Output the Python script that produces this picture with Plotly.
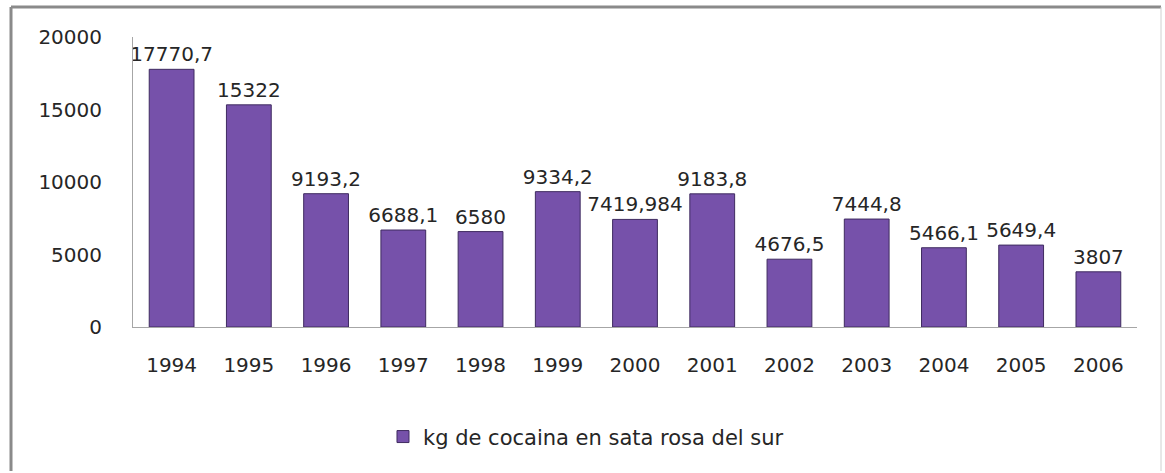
import plotly.graph_objects as go

years = ["1994", "1995", "1996", "1997", "1998", "1999", "2000",
         "2001", "2002", "2003", "2004", "2005", "2006"]
kg_cocaina = [17770.7, 15322, 9193.2, 6688.1, 6580, 9334.2, 7419.984,
              9183.8, 4676.5, 7444.8, 5466.1, 5649.4, 3807]
series_name = "kg de cocaina en sata rosa del sur"
y_ticks = [0, 5000, 10000, 15000, 20000]
y_tick_text = ["0", "5000", "10000", "15000", "20000"]


def fmt(v):
    if v == int(v):
        return str(int(v))
    return repr(v).replace(".", ",")


labels = [fmt(v) for v in kg_cocaina]

FONT = "DejaVu Sans"
TXT = "#262626"

fig = go.Figure()
fig.add_trace(go.Bar(
    x=years, y=kg_cocaina, name=series_name,
    text=labels, textposition="outside", cliponaxis=False,
    constraintext="none",
    textfont=dict(family=FONT, size=20, color=TXT),
    marker=dict(color="#7651AA", line=dict(color="#3f2b60", width=1)),
    width=0.58, showlegend=True,
))

fig.update_layout(
    width=1165, height=473,
    margin=dict(l=133, r=28, t=37, b=146, autoexpand=False),
    paper_bgcolor="white", plot_bgcolor="white",
    font=dict(family=FONT, size=20, color=TXT),
    showlegend=True,
    legend=dict(orientation="h", x=0.249, xanchor="left", y=-0.379,
                yanchor="middle", font=dict(family=FONT, size=21, color=TXT),
                itemwidth=30),
    xaxis=dict(showline=True, linecolor="#a6a6a6", linewidth=1,
               showgrid=False, ticks="", ticklabelstandoff=20,
               automargin=False,
               tickfont=dict(family=FONT, size=20, color=TXT)),
    yaxis=dict(range=[0, 20000], tickvals=y_ticks, ticktext=y_tick_text,
               showline=True, automargin=False,
               linecolor="#a6a6a6", linewidth=1, showgrid=False,
               zeroline=False, ticks="", ticklabelstandoff=26,
               tickfont=dict(family=FONT, size=20, color=TXT)),
    bargap=0.42,
)

# outer frame
x0, x1 = (11 - 133) / 1004, (1161 - 133) / 1004
y0, y1 = (327 - 471) / 290, (327 - 7) / 290
fig.add_shape(type="line", xref="paper", yref="paper", x0=x0, x1=x1, y0=y1, y1=y1,
              line=dict(color="#8a8a8a", width=3))
fig.add_shape(type="line", xref="paper", yref="paper", x0=x0, x1=x0, y0=y0, y1=y1,
              line=dict(color="#8a8a8a", width=3))
fig.add_shape(type="line", xref="paper", yref="paper", x0=x1, x1=x1, y0=y0, y1=y1,
              line=dict(color="#d0d0d0", width=1))

fig.write_html("out.html",
               config={"displayModeBar": False},
               post_script="document.body.style.margin='0px';")
